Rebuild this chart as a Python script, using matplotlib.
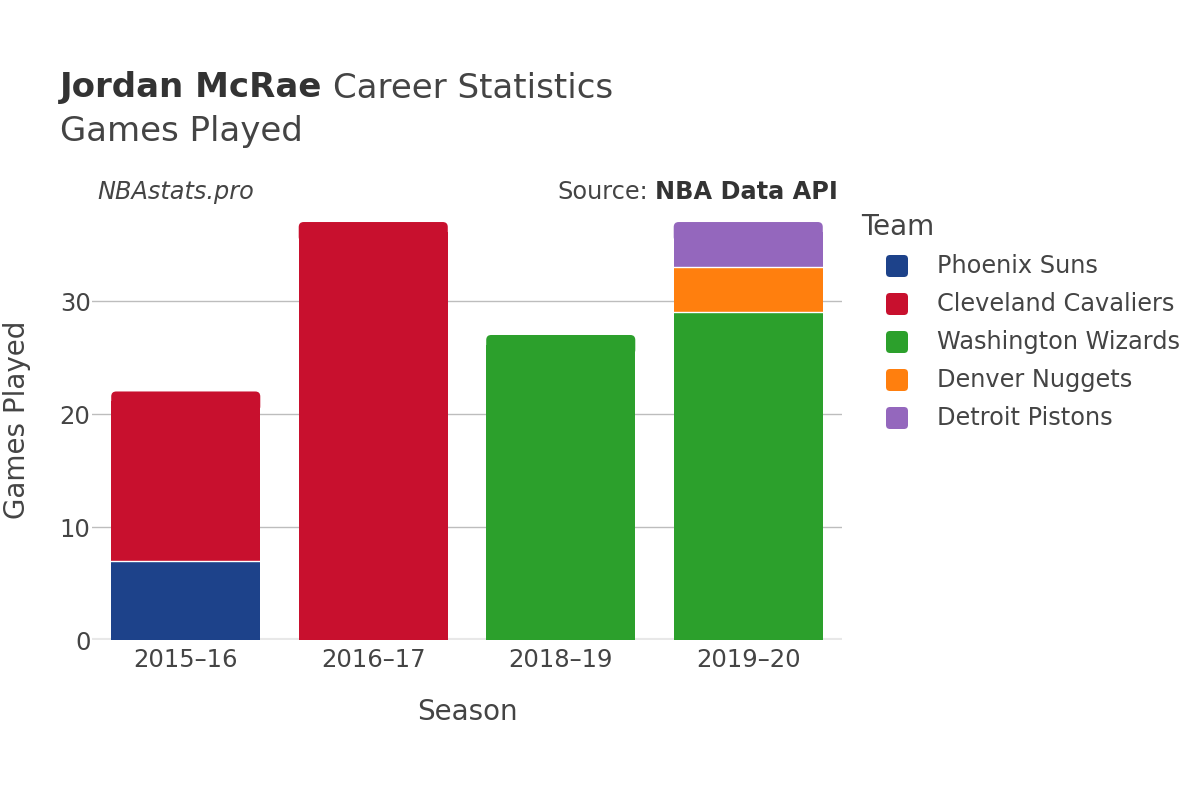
import matplotlib
matplotlib.use("Agg")
import matplotlib.pyplot as plt
from matplotlib.patches import FancyBboxPatch, Rectangle
import numpy as np

seasons = ["2015\u201316", "2016\u201317", "2018\u201319", "2019\u201320"]
teams = ["Phoenix Suns", "Cleveland Cavaliers", "Washington Wizards", "Denver Nuggets", "Detroit Pistons"]
colors = ["#1d428a", "#c8102e", "#2ca02c", "#ff7f0e", "#9467bd"]
games = {
    "Phoenix Suns":        [7, 0, 0, 0],
    "Cleveland Cavaliers": [15, 37, 0, 0],
    "Washington Wizards":  [0, 0, 27, 29],
    "Denver Nuggets":      [0, 0, 0, 4],
    "Detroit Pistons":     [0, 0, 0, 4],
}
yticks = [0, 10, 20, 30]

plt.rcParams['font.family'] = ['DejaVu Sans']
W, H = 1200, 800
L, R, T, B = 92, 842, 200, 640
YMAX = 38.95
fig = plt.figure(figsize=(12, 8), dpi=100)
ax = fig.add_axes([L/W, 1-B/H, (R-L)/W, (B-T)/H])
ax.set_xlim(-0.5, 3.5)
ax.set_ylim(0, YMAX)

px_x = 4.0 / (R-L)           # data units per px in x
px_y = YMAX / (B-T)          # data units per px in y
bw = 0.795
RAD = 5

x = np.arange(len(seasons))
totals = np.zeros(len(seasons))
for t in teams:
    totals += np.array(games[t], dtype=float)

bottom = np.zeros(len(seasons))
for t, c in zip(teams, colors):
    v = np.array(games[t], dtype=float)
    for i in range(len(seasons)):
        if v[i] <= 0:
            continue
        b0, h = bottom[i], v[i]
        top = b0 + h
        is_top = abs(top - totals[i]) < 1e-9
        if is_top:
            r = RAD * px_x
            ry = RAD * px_y
            # rounded cap occupying top 4*RAD px
            p = FancyBboxPatch((x[i]-bw/2 + r, top - 4*ry + ry), bw - 2*r, 4*ry - 2*ry,
                               boxstyle=f"round,pad={r}", mutation_aspect=px_y/px_x,
                               facecolor=c, edgecolor="none", zorder=3)
            ax.add_patch(p)
            ax.add_patch(Rectangle((x[i]-bw/2, b0), bw, h - 2*ry, facecolor=c,
                                   edgecolor="none", zorder=3))
        else:
            ax.add_patch(Rectangle((x[i]-bw/2, b0), bw, h, facecolor=c, edgecolor="none", zorder=3))
        if b0 > 0:
            ax.plot([x[i]-bw/2, x[i]+bw/2], [b0, b0], color="white", linewidth=1, zorder=4)
    bottom += v

ax.set_yticks(yticks)
ax.set_xticks(x)
ax.set_xticklabels(seasons)
for s in ax.spines.values():
    s.set_visible(False)
ax.grid(axis="y", color="#bdbdbd", linewidth=1, zorder=0)
ax.axhline(0, color="#e8e8e8", linewidth=3, zorder=2)
ax.tick_params(axis="both", length=0, labelsize=17.5, labelcolor="#444444")
ax.tick_params(axis="x", pad=6)
ax.tick_params(axis="y", pad=1)

fig.text((L+R)/2/W, 1-712/H, "Season", fontsize=20, color="#444444", va="center", ha="center")
fig.text(17/W, 1-420/H, "Games Played", fontsize=20, color="#444444", va="center", ha="center", rotation=90)

# titles
t1 = fig.text(60/W, 1-88/H, "Jordan McRae", fontsize=24.5, fontweight="bold", color="#333333", va="center", ha="left")
fig.canvas.draw()
bb = t1.get_window_extent(renderer=fig.canvas.get_renderer())
fig.text((bb.x1 + 11)/W, 1-88/H, "Career Statistics", fontsize=24.5, color="#444444", va="center", ha="left")
fig.text(60/W, 1-132/H, "Games Played", fontsize=24.5, color="#444444", va="center", ha="left")

fig.text(97/W, 1-192/H, "NBAstats.pro", fontsize=17.3, style="italic", color="#444444", va="center", ha="left")
t2 = fig.text(838/W, 1-192/H, "NBA Data API", fontsize=17.3, fontweight="bold", color="#333333", va="center", ha="right")
fig.canvas.draw()
bb2 = t2.get_window_extent(renderer=fig.canvas.get_renderer())
fig.text((bb2.x0 - 7)/W, 1-192/H, "Source:", fontsize=17.3, color="#444444", va="center", ha="right")

# legend
fig.text(861/W, 1-227/H, "Team", fontsize=20, color="#444444", va="center", ha="left")
for i, (t, c) in enumerate(zip(teams, colors)):
    yc = 266 + i*38
    rp = 4
    p = FancyBboxPatch(((886+rp)/W, 1-(yc+11-rp)/H), (22-2*rp)/W, (22-2*rp)/H,
                       boxstyle=f"round,pad={rp/W}", transform=fig.transFigure,
                       facecolor=c, edgecolor="none", mutation_aspect=W/H)
    fig.add_artist(p)
    fig.text(937/W, 1-yc/H, t, fontsize=17.3, color="#444444", va="center", ha="left")

fig.savefig("out.png", dpi=100)
